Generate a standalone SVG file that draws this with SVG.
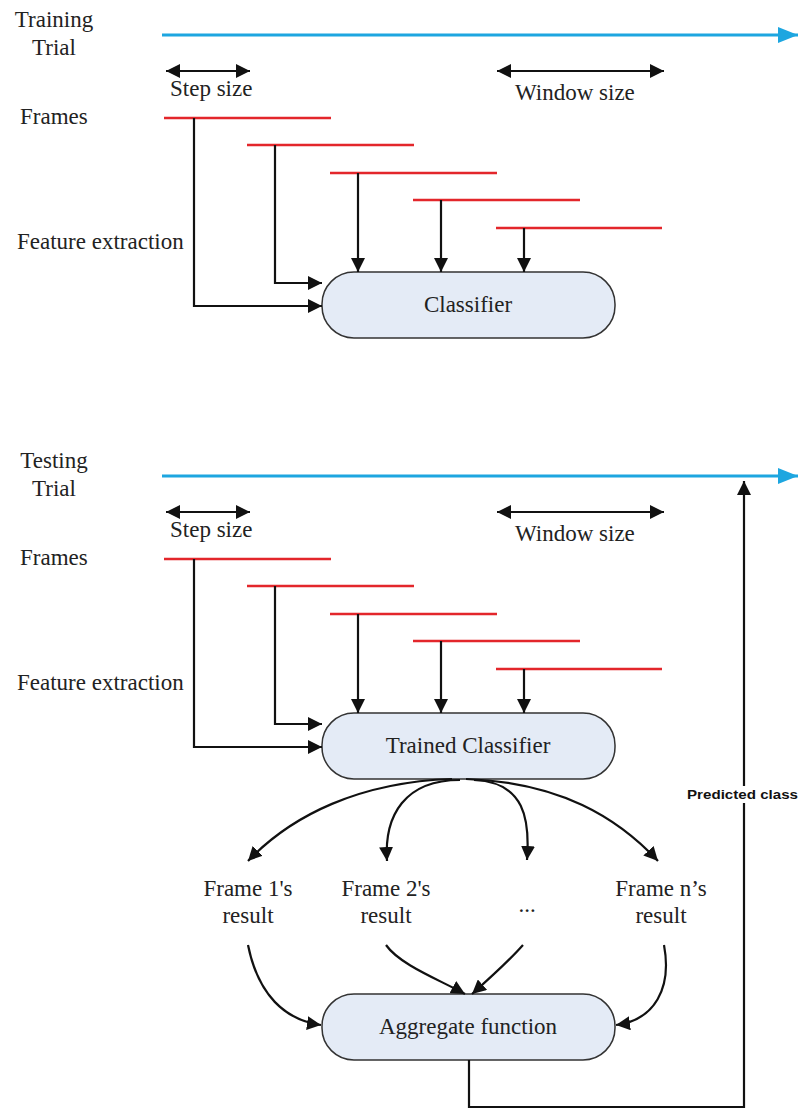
<svg xmlns="http://www.w3.org/2000/svg" width="801" height="1109" viewBox="0 0 801 1109">
<style>
text{font-family:"Liberation Serif","Times New Roman",serif;font-size:23px;fill:#222}
.mid{text-anchor:middle}
.blue{stroke:#1da6e0;stroke-width:3;fill:none}
.red{stroke:#e3262b;stroke-width:2.5;fill:none}
.con{stroke:#111;stroke-width:2.2;fill:none}
.box{fill:#e4ebf6;stroke:#333;stroke-width:1.5}
.pc{font-family:"Liberation Sans",Arial,sans-serif;font-weight:bold;font-size:13.5px;fill:#111}
</style>
<defs>
<marker id="ah" markerUnits="userSpaceOnUse" markerWidth="15" markerHeight="14" refX="14" refY="7" orient="auto-start-reverse">
<path d="M0,0 L14,7 L0,14 Z" fill="#111"/>
</marker>
<marker id="bh" markerUnits="userSpaceOnUse" markerWidth="22" markerHeight="18" refX="20" refY="8" orient="auto">
<path d="M0,0 L20,8 L0,16 Z" fill="#1da6e0"/>
</marker>
</defs>

<g id="labels-top">
<text x="54" y="27" class="mid">Training</text>
<text x="54" y="55" class="mid">Trial</text>
<text x="170" y="96">Step size</text>
<text x="515" y="100">Window size</text>
<text x="20" y="124">Frames</text>
<text x="17" y="249">Feature extraction</text>
</g>

<g id="labels-bottom">
<text x="54" y="468" class="mid">Testing</text>
<text x="54" y="496" class="mid">Trial</text>
<text x="170" y="537">Step size</text>
<text x="515" y="541">Window size</text>
<text x="20" y="565">Frames</text>
<text x="17" y="690">Feature extraction</text>
</g>

<g id="frames-top">
<path class="red" d="M164,118 H331 M247,145 H414 M330,173 H497 M413,200 H580 M496,228 H662"/>
</g>
<g id="frames-bottom">
<path class="red" d="M164,559 H331 M247,586 H414 M330,614 H497 M413,641 H580 M496,669 H662"/>
</g>

<g id="classifier">
<rect class="box" x="322" y="272" width="293" height="66" rx="32" ry="32"/>
<text x="468" y="312" class="mid">Classifier</text>
</g>
<g id="trained-classifier">
<rect class="box" x="322" y="713" width="293" height="66" rx="32" ry="32"/>
<text x="468" y="753" class="mid">Trained Classifier</text>
</g>
<g id="aggregate">
<rect class="box" x="322" y="994" width="293" height="66" rx="32" ry="32"/>
<text x="468" y="1034" class="mid">Aggregate function</text>
</g>

<g id="results">
<text x="248" y="896" class="mid">Frame 1's</text>
<text x="248" y="923" class="mid">result</text>
<text x="386" y="896" class="mid">Frame 2's</text>
<text x="386" y="923" class="mid">result</text>
<text x="527" y="912" class="mid">...</text>
<text x="661" y="896" class="mid">Frame n’s</text>
<text x="661" y="923" class="mid">result</text>
</g>

<g id="connectors">
<path class="blue" d="M162,35 H798" marker-end="url(#bh)"/>
<path class="blue" d="M162,476 H798" marker-end="url(#bh)"/>
<path class="con" d="M166,71 H250" marker-start="url(#ah)" marker-end="url(#ah)"/>
<path class="con" d="M497,71 H664" marker-start="url(#ah)" marker-end="url(#ah)"/>
<path class="con" d="M166,512 H250" marker-start="url(#ah)" marker-end="url(#ah)"/>
<path class="con" d="M497,512 H664" marker-start="url(#ah)" marker-end="url(#ah)"/>

<path class="con" d="M194,118 V306 H322" marker-end="url(#ah)"/>
<path class="con" d="M275,145 V283 H322" marker-end="url(#ah)"/>
<path class="con" d="M358,173 V272" marker-end="url(#ah)"/>
<path class="con" d="M441,200 V272" marker-end="url(#ah)"/>
<path class="con" d="M524,228 V272" marker-end="url(#ah)"/>

<path class="con" d="M194,559 V747 H322" marker-end="url(#ah)"/>
<path class="con" d="M275,586 V724 H322" marker-end="url(#ah)"/>
<path class="con" d="M358,614 V713" marker-end="url(#ah)"/>
<path class="con" d="M441,641 V713" marker-end="url(#ah)"/>
<path class="con" d="M524,669 V713" marker-end="url(#ah)"/>

<path class="con" d="M452,779 C360,782 292,815 248,861" marker-end="url(#ah)"/>
<path class="con" d="M460,780 C405,780 384,815 387,861" marker-end="url(#ah)"/>
<path class="con" d="M474,780 C525,782 530,820 527,860" marker-end="url(#ah)"/>
<path class="con" d="M466,779 C560,782 618,818 658,861" marker-end="url(#ah)"/>

<path class="con" d="M248,945 C258,995 285,1020 321,1025" marker-end="url(#ah)"/>
<path class="con" d="M386,945 C400,965 440,980 465,994" marker-end="url(#ah)"/>
<path class="con" d="M523,945 C508,962 490,978 472,994" marker-end="url(#ah)"/>
<path class="con" d="M664,945 C672,988 655,1020 616,1025" marker-end="url(#ah)"/>

<path class="con" d="M469,1060 V1107 H744 V481" marker-end="url(#ah)"/>
</g>

<g id="predicted-label">
<rect x="686" y="786" width="114" height="17" fill="#fff"/>
<text x="687" y="799" class="pc" textLength="111" lengthAdjust="spacingAndGlyphs">Predicted class</text>
</g>
</svg>
